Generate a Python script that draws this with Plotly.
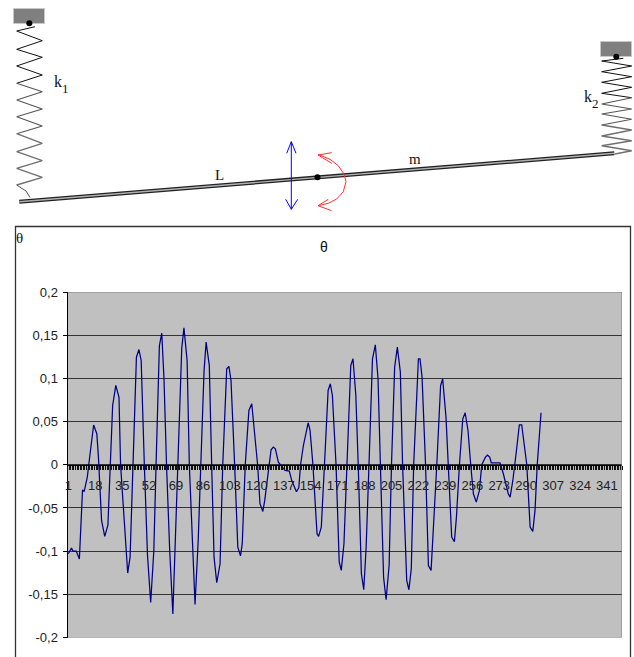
import plotly.graph_objects as go

W, H = 634, 657

# ---------- chart data ----------
step = [1,3,4,6,8,10,11,13,15,17,19,20,22,24,26,28,29,31,33,34,37,38.5,40,42,44,45.6,47,49,51,53,55,56.4,58.5,60,61.4,63,65,67,
        70.4,72.6,74,76,77.4,79.5,81,83,84.6,85.4,86.7,88,90,91.5,93,94.7,96.8,98.5,101,102.4,103.7,106,108,109.7,110.8,112.7,115,116.8,118,120.5,122,123.8,125,128,129,130.4,131.7,133.6,135.7,137.8,140.5,142,145,146.5,147.6,149.4,152.4,153.6,155.4,156.7,158,159,160.7,162.7,165,166.4,167.7,170,172,173.3,175,176.9,179.3,180.7,182.5,184,186,187.5,189,190.8,193,194.8,196.5,198,200,201.6,203.5,205,207,208.7,210.6,212,214.6,216,217.5,219,222,223,224.3,226.5,228.3,230,232,233.6,236,237.3,239.4,240.7,243,244.7,246,247.9,250,251.5,253.3,255,256.7,258.5,260.5,262,264.3,265.6,267,268,273.5,275.6,278.7,279.9,281.6,284,285.7,287.2,289.3,290.4,292.5,294.2,295.6,297,299.4]
theta = [-0.103,-0.0965,-0.1,-0.1,-0.109,-0.029,-0.031,-0.0143,0.0165,0.046,0.036,0.01,-0.0645,-0.083,-0.07,0.0165,0.0686,0.0918,0.078,0.0,-0.0795,-0.1254,-0.107,0.0,0.1245,0.1334,0.1207,0.0,-0.105,-0.1594,-0.0992,0.0,0.138,0.1523,0.0999,0.0,-0.099,-0.1729,
         0.0,0.1346,0.1585,0.1207,0.0,-0.107,-0.1617,-0.0876,0.0,0.061,0.109,0.142,0.115,0.0,-0.107,-0.1366,-0.1146,0.0,0.111,0.1138,0.0976,0.0,-0.0954,-0.1054,-0.0914,0.0,0.0628,0.0706,0.0474,0.0,-0.0451,-0.0541,-0.0413,0.0,0.0174,0.0204,0.0185,0.003,-0.002,-0.0066,-0.0073,-0.018,-0.0313,-0.0266,0.0,0.0223,0.0486,0.0397,0.0,-0.0451,-0.0799,-0.083,-0.0722,0.0,0.086,0.0937,0.0802,0.0,-0.1127,-0.1223,-0.0914,0.0,0.1149,0.1227,0.0802,0.0,-0.1262,-0.1447,-0.0954,0.0,0.1227,0.1389,0.0995,0.0,-0.1301,-0.1563,-0.1166,0.0,0.113,0.1361,0.1072,0.0,-0.134,-0.1447,-0.1204,0.0,0.1227,0.1227,0.1014,0.0,-0.1166,-0.1223,-0.0606,0.0,0.0918,0.0995,0.0551,0.0,-0.0838,-0.0891,-0.0606,0.0,0.0532,0.0602,0.0397,0.0,-0.0336,-0.0433,-0.0297,0.0,0.0088,0.0111,0.0088,0.0023,0.0023,-0.0104,-0.0336,-0.0375,-0.0182,0.0185,0.0463,0.0463,0.0166,0.0,-0.0722,-0.0772,-0.0529,0.0,0.0602]
x_tick_vals = [1,18,35,52,69,86,103,120,137,154,171,188,205,222,239,256,273,290,307,324,341]
x_tick_text = [str(v) for v in x_tick_vals]
y_tick_vals = [0.2,0.15,0.1,0.05,0,-0.05,-0.1,-0.15,-0.2]
y_tick_text = ["0,2","0,15","0,1","0,05","0","-0,05","-0,1","-0,15","-0,2"]

# ---------- diagram outlines, in page pixels ----------
spring1_x = [35,16.7,42.3,16.7,42.3,16.7,42.3,16.7,42.3,16.7,42.3,16.7,42.3,16.7,42.3,16.7,42.3,16.7,42.3,16.7]
spring1_y = [26.7,31,40.7,49.3,57.3,66,75,83.3,91.7,100,109,116.7,126,133.7,143.3,151.7,160.7,168.3,177.3,185]
spring1_tail_x = [16.7,22,26,30]
spring1_tail_y = [185,188,191,197.5]
spring2_x = [623.3,601.7,631.7,601.7,631.7,601.7,631.7,601.7,631.7,601.7,631.7,601.7,631.7,601.7,631.7,601.7,631.7,601.7,631.7,615]
spring2_y = [58.3,61,66,71.7,76.7,82.3,87.3,93.3,97.7,104,109,114,119.3,125,130,136,140.7,145.7,150.7,154]
beam_x = [19.3,614.3]
beam_y = [201.7,153.3]
blue_shaft_x, blue_shaft_y = [291.3,291.3],[141.7,209.3]
blue_top_x, blue_top_y = [286.7,291.3,296],[153.3,141.7,153.3]
blue_bot_x, blue_bot_y = [285.7,291.3,297.7],[199.3,209.3,199.3]
arc_x = [318,330,338.3,344,346,343.3,336.7,328.3,318]
arc_y = [154.3,159.3,165.7,174,181.7,191.7,199,203.3,205.7]
red_top_x, red_top_y = [331.7,318,331.7],[152.7,155,163.3]
red_bot_x, red_bot_y = [328.3,318,331.7],[199.3,205.7,210.7]
frame_x = [15.5,15.5,630.5,630.5]
frame_y = [657,226.5,226.5,657]

fig = go.Figure()

# main series
fig.add_trace(go.Scatter(x=step, y=theta, mode="lines", line=dict(color="#000088", width=1.25),
                         xaxis="x", yaxis="y", showlegend=False))

def px(x, y, color, width=1, mode="lines"):
    fig.add_trace(go.Scatter(x=x, y=y, mode=mode, line=dict(color=color, width=width),
                             xaxis="x2", yaxis="y2", showlegend=False, hoverinfo="skip"))

# frame
px(frame_x, frame_y, "#333333", 1.3)

# springs with black-to-grey fade
px(spring1_x[:8], spring1_y[:8], "#111111")
px(spring1_x[7:14], spring1_y[7:14], "#555555", 1.1)
px(spring1_x[13:], spring1_y[13:], "#707070", 1.4)
px(spring1_tail_x, spring1_tail_y, "#555555")
px(spring2_x[:9], spring2_y[:9], "#111111")
px(spring2_x[8:14], spring2_y[8:14], "#555555", 1.1)
px(spring2_x[13:], spring2_y[13:], "#707070", 1.4)

# beam
px(beam_x, beam_y, "#222222", 4)
px(beam_x, beam_y, "#b0b0b0", 1.4)

# arrows
for a, b in [(blue_shaft_x, blue_shaft_y), (blue_top_x, blue_top_y), (blue_bot_x, blue_bot_y)]:
    px(a, b, "#0000ff")
for a, b in [(arc_x, arc_y), (red_top_x, red_top_y), (red_bot_x, red_bot_y)]:
    px(a, b, "#ff3030")

def box(x0, y0, x1, y1):
    fig.add_shape(type="rect", xref="x2", yref="y2", x0=x0, y0=y0, x1=x1, y1=y1, layer="below",
                  fillcolor="#808080", line=dict(color="#c8c8c8", width=1))
box(13.5, 8.5, 44.5, 23.5)
box(600.5, 41.5, 631.5, 56.5)

# pivots
fig.add_trace(go.Scatter(x=[29.3,616.3,317.5], y=[23.3,56.7,177.3], mode="markers",
                         marker=dict(color="black", size=6), xaxis="x2", yaxis="y2",
                         showlegend=False, hoverinfo="skip"))

def label(x, y, text, size=14, family="Liberation Serif", color="#111111"):
    fig.add_annotation(x=x, y=y, xref="x2", yref="y2", text=text, showarrow=False,
                       font=dict(family=family, size=size, color=color))
label(58, 81, "k", 16)
label(65.5, 88.5, "1", 13)
label(588, 96, "k", 16)
label(595.5, 103, "2", 13)
label(219, 175, "L", 15)
label(415, 159, "m", 15)
label(19.5, 238, "θ", 15, "Liberation Serif")
label(324, 247, "θ", 14, "Liberation Sans")

# plot background and edges
fig.add_shape(type="rect", xref="x", yref="y", x0=0.5, x1=350.5, y0=-0.2, y1=0.2, layer="below",
              fillcolor="#c0c0c0", line=dict(width=0))
for y0 in [0.2, -0.2]:
    fig.add_shape(type="line", xref="x", yref="y", x0=0.5, x1=350.5, y0=y0, y1=y0,
                  line=dict(color="#808080", width=1))
fig.add_shape(type="line", xref="x", yref="y", x0=350.5, x1=350.5, y0=-0.2, y1=0.2,
              line=dict(color="#808080", width=1))

fig.update_layout(
    width=W, height=H, margin=dict(l=0, r=0, t=0, b=0),
    paper_bgcolor="white", plot_bgcolor="rgba(0,0,0,0)",
    font=dict(family="Liberation Sans", size=13, color="#222222"),
    xaxis=dict(domain=[67.5/W, 622/W], range=[0.5, 350.5], anchor="free",
               position=1-464.5/H, tickmode="array", tickvals=x_tick_vals, ticktext=x_tick_text,
               ticks="", ticklabelstandoff=9, showgrid=False, zeroline=False, automargin=False,
               showline=True, linecolor="black", linewidth=1.4,
               minor=dict(tick0=0.5, dtick=1, ticks="outside", ticklen=4, tickwidth=1, tickcolor="#111111", showgrid=False)),
    yaxis=dict(domain=[1-637.5/H, 1-292/H], range=[-0.2, 0.2], tickmode="array", automargin=False,
               tickvals=y_tick_vals, ticktext=y_tick_text, ticks="outside", ticklen=4, tickcolor="black",
               showgrid=True, gridcolor="#333333", gridwidth=1, zeroline=False,
               showline=True, linecolor="black", linewidth=1, ticklabelstandoff=2, anchor="x"),
    xaxis2=dict(domain=[0, 1], range=[0, W], visible=False, anchor="y2"),
    yaxis2=dict(domain=[0, 1], range=[H, 0], visible=False, anchor="x2"),
)

fig.write_html("out.html", config=dict(displayModeBar=False),
               post_script="document.body.style.margin='0';document.body.style.overflow='hidden';")
